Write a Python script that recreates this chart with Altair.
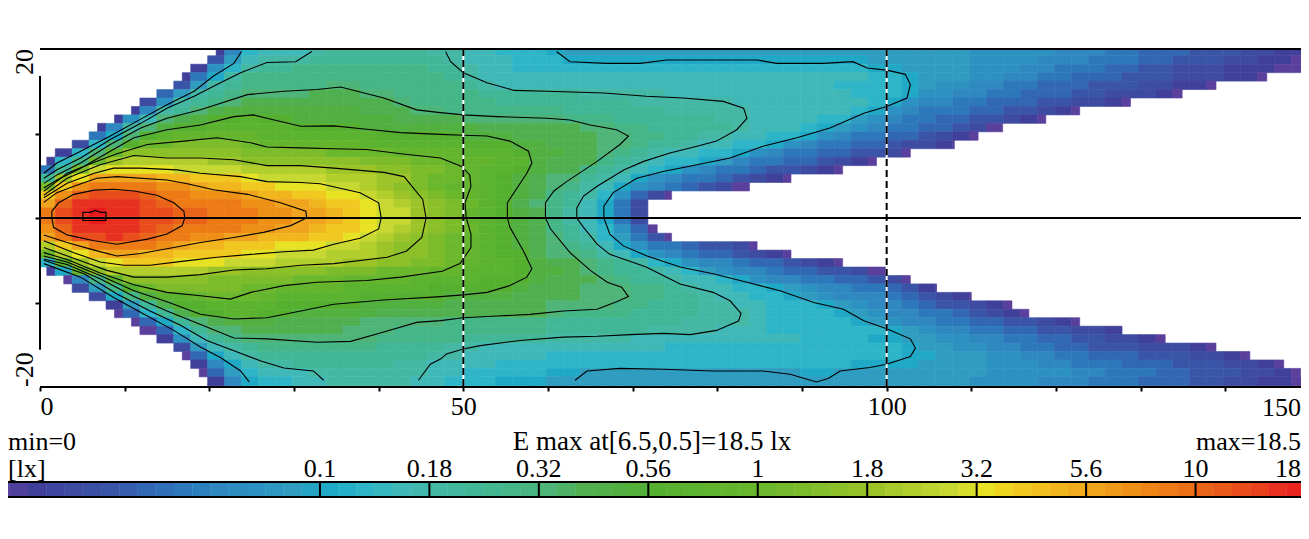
import altair as alt
import pandas as pd

FONT = "Liberation Serif"
ALPHA = "0123456789abcdefghijklmnopqrstuvwxyzA"

# Illuminance level for each cell. One entry per row, top to bottom;
# one character per 2 m column. Level 9 = 0.1 lx, 12 = 0.18, 15 = 0.32 ... 36 = 18 lx.
ROW_K = list(range(19, -22, -1))
ROWS = [
"..... ..... 16abb bcddd dddcc bbaaa 98888 88888 88888 88888 88888 77777 66655 44433 32211",
"..... ..... 38bcc cdddd ddddc bbbaa a9999 99999 99999 99998 88888 77776 66555 44333 22110",
"..... ....1 7acdd eeeee eeedd cbbaa aaaaa aaaaa aaaaa aaaa9 98888 77766 55544 33222 11100",
"..... ...15 9ceee eeeee eeeed cbbbb bbbbb bbbbb bbbbb bbbba a9888 77665 54443 33222 110..",
"..... ...38 cdeee eeffe eeeee dcbbb bbbbb bbbbb bbbbb bbaaa a9877 66554 44333 22110 .....",
"..... ..48c defff fgggf feeee edddd ddccc ccbbb bbbbb bbbaa a9776 65544 43322 210.. .....",
"..... .27cd efggg ggggg gfeee eeddd ddddd ccccc cbbbb bbbba 97665 54443 32210 ..... .....",
"..... 16cdf ghhhh hhhhg ggffe eeeee edddd ddccc ccbbb bbba9 76555 44332 10... ..... .....",
"....1 7bfgh iijii hhhhh hgggg fffff feeed ddddd ccbbb baa87 65544 33210 ..... ..... .....",
"...16 cfhii jjjjj iiiih hhhhh hgggg ggffe edddd dcbbb a9876 55443 20... ..... ..... .....",
"...59 fijkk kkkjj jjjjj iiiii hhhgg gggff eeddc cbbaa 97655 44321 0.... ..... ..... .....",
"..2af illmm mmlkk kkkkj jjjjj iiihh gggff eddcb baa97 65544 32210 ..... ..... ..... .....",
".1afk nnnnn nnmmm mmlll lkkkk jjjih hggfe dcbba a9765 54433 20... ..... ..... ..... .....",
"1aelo ppppp oonnn nnnnm mmllk kkjjh ggged cbaa9 86554 43210 ..... ..... ..... ..... .....",
"5dmqr rrrqq qqppp ppooo nnmml kjjih ggedc ba976 55433 210.. ..... ..... ..... ..... .....",
"doruu uutts ssrqq qqppp oomll kjihg ffdcb 97655 43210 ..... ..... ..... ..... ..... .....",
"msvww wwvvu ttssr rrqqp onmlk kjihg fecb9 76543 20... ..... ..... ..... ..... ..... .....",
"svxyy yxwwv vvutt ssrrq ponml kjihg edca7 420.. ..... ..... ..... ..... ..... ..... .....",
"uxzzz zyxww wwvvu utssr qponm ljigf edb95 2.... ..... ..... ..... ..... ..... ..... .....",
"wyzAz zyyxx wwwvv uutsr qqonm kjihg ecb95 2.... ..... ..... ..... ..... ..... ..... .....",
"wyzAz zyyxx wwwvv uutsr qqonm kjihg ecb95 2.... ..... ..... ..... ..... ..... ..... .....",
"vxzzz zyxww wwvvu utssr qponm ljihg edba7 40... ..... ..... ..... ..... ..... ..... .....",
"uwyyz yxwwv vuutt tssrq ponml kjihg fdca8 530.. ..... ..... ..... ..... ..... ..... .....",
"psuww wwvut tsssr rrqqp onnml kjihg fedb9 75543 320.. ..... ..... ..... ..... ..... .....",
"lprtu uttss ssrrq qqppp onnml kjiig ffecb 97654 43210 ..... ..... ..... ..... ..... .....",
"ajoqr sssrr rqqqp pppoo nnmml kjjih ggfed ca976 65443 210.. ..... ..... ..... ..... .....",
"19knp ppppp oonnn nnmmm lllkk jjjih hgfed dcba8 76654 43320 0.... ..... ..... ..... .....",
".06ej nnnnn mmmmm lllkk kkjjj jiiih gggfe ddcbb a9766 55443 20... ..... ..... ..... .....",
"..28e ilmmm mmllk kkkjj jjjii iiihg ggfff eedcb baa98 76655 4310. ..... ..... ..... .....",
"...29 ehjjk lllkj jjjji iiiih hhhgg ggfff eeddc bbaa9 87666 54321 0.... ..... ..... .....",
"....1 8dgii jjjji iiiih hhhhg ggggg ffffe edddc cbbaa a9876 65433 210.. ..... ..... .....",
"....0 4adgi ijjii hhhhh ggggg ggggg feeee ddddc ccbaa aa987 66554 3210. ..... ..... .....",
"..... 049df ghhhg ggggf ffffe eeeee ddddd dddcc ccbaa aaa98 76655 44332 10... ..... .....",
"..... .04ad ffggg gggff feeee eeeee ddddd dcccc bbbaa aaaaa 98766 55443 32210 ..... .....",
"..... ..17b defff fffff eeeee ddddd ccccc bbbbb bbbbb aaaa9 98877 66554 43322 10... .....",
"..... ...28 bcdee eeeee ddddc cbbbb bbbbb bbaaa aaaaa aaaaa a9887 76655 44333 22210 .....",
"..... ...04 9bcdd ddddd dddcc bbbbb aaaaa aaaaa aaaaa aaaaa a9988 87766 55444 33322 10...",
"..... ....1 69bcc ddddd dccbb bbaaa aaaaa aaaaa aaaaa aaa99 99888 87776 65554 44333 2210.",
"..... ....0 48abb bcccc cccbb aaaaa 99888 88888 88888 99888 88888 87777 76655 54433 32210",
"..... ..... 169aa bbccc ccbba aa999 88888 88888 88888 88888 88888 77776 66555 44433 22110",
"..... ..... 169aa bbccc ccbba aa999 88888 88888 88888 88888 88888 77776 66555 44433 22110",
]
# First and last x (m) of the lit area in each row
ROW_START = [20.8,19.8,17.8,16.8,15.8,13.8,11.8,10.8,8.8,6.8,5.8,3.8,1.8,0.8,0,0,0,0,0,0,0,0,0,0,0,0,
             0.8,2.8,3.8,5.8,7.8,8.8,10.8,11.8,13.8,15.8,16.8,17.8,18.8,19.8,19.8]
ROW_END = [151,151,151,144.9,138.9,134.9,128.8,122.8,118.8,113.7,110.8,108,102.8,98.8,94.8,88.7,83.9,74.6,71.8,71.8,
           71.8,72.9,74.6,84.7,88.7,94.8,100,102.8,105.9,110,114.8,116.8,122.8,127.8,132.9,138.9,142.9,146.9,148.9,151,151]

# Colour ramp: level -> colour, as on the colour bar
RAMP_LEVELS = [0,1,3,4.5,6,8,9,10,11,12,14,15,16,18,21,24,26,27,28,30,33,35,36]
RAMP_COLORS = ["#5b3f9c","#40409a","#3a55a8","#2f70b8","#3088c0","#2f9cc0","#1fa9c6","#2eb6c8","#40b8b8","#44b8a4",
               "#44b688","#4fb478","#50b050","#55b030","#6bb82d","#9cc428","#c8d832","#e8e224","#f0c820","#f0a41e",
               "#e96418","#e83020","#e81a1e"]

C18 = [(5.06,0),(5.06,.67),(5.96,.67),(6.55,.9),(7.14,.67),(7.8,.67),(7.8,-.3),(5.06,-.3),(5.06,0)]
C10 = [(1.4,0),(1.4,.8),(2.2,1.8),(4,2.8),(6.4,3.3),(8.7,3.4),(11.1,3.2),(13.8,2.7),(15.8,1.8),(17,.8),(17.1,0),
       (16.8,-.9),(15,-1.9),(12.7,-2.5),(9.1,-3.1),(6.4,-2.7),(3.2,-2),(1.6,-1.1),(1.4,0)]
C5_6 = [(.45,1.85),(2,3),(4,3.75),(6.7,4.7),(9.1,4.9),(15,4.5),(17.4,4.06),(20.5,3.35),(24.5,2.8),(28.4,1.8),(31.4,.8),(31.5,0),
        (29.6,-.9),(26.4,-1.7),(22.9,-2.3),(18.95,-2.9),(15.8,-3.5),(11.9,-4.2),(9.1,-4.5),(6.4,-3.8),(3.2,-2.9),(.45,-2)]
C3_2 = [(.45,2.4),(3.2,4.1),(6.4,5.3),(8.7,5.9),(11.9,5.9),(16.2,5.7),(18.95,5.3),(23.7,4.9),(26.8,4.3),(30.8,4.2),(33.1,4.06),
        (37.8,3),(40,1.8),(40.3,0),(40,-1.3),(37.8,-2.4),(34.7,-3.1),(32.3,-3.8),(28.8,-4),(24.9,-4.3),(20.9,-4.65),(17,-5.1),
        (13,-5.6),(9.9,-5.6),(7.1,-5.2),(4,-4.1),(.45,-2.7)]
C1_8 = [(.45,2.7),(3.2,4.7),(7.1,6.3),(11.1,7.4),(15,7.1),(18.95,7.1),(22.9,6.9),(26.8,6.2),(30.8,6.2),(34.7,5.9),(40.6,5.4),
        (43,4.9),(45.2,2.2),(45.6,0),(45.1,-2.3),(43.3,-3.9),(41,-4.65),(34.7,-5.4),(30.8,-5.6),(26.8,-6),(22.9,-6.15),
        (18.95,-6.7),(15,-7),(11.1,-7),(7.9,-6.2),(5.2,-5.2),(.45,-3.5)]
C1 = [(.45,3.15),(3.2,5.3),(6.4,6.6),(9.1,7.6),(12.65,8.7),(17,9.1),(20.9,9.5),(24.9,8.9),(26.8,8.4),(30.8,8.3),(34.7,8.2),
      (38.6,8.1),(42.6,7.6),(47.3,7.1),(49.8,6.1),(50.75,5.1),(50.9,3.75),(50.2,1.8),(50.35,0),(50.9,-1.9),(50.9,-3.5),
      (49.6,-5.4),(47.5,-6.3),(42.6,-7),(38.6,-7.4),(32.7,-7.6),(28.8,-8),(24.9,-8.8),(22.5,-9.6),(18.95,-9.2),(15,-8.8),
      (11.1,-7.9),(7.1,-6.5),(3.2,-4.9),(.45,-4.1)]
C0_56 = [(.45,3.55),(2,4.5),(4.8,5.9),(8.3,7.9),(11.1,9.5),(15,10.45),(18.95,11),(22.9,12),(25.2,12.2),(26.8,11.8),(30.8,10.85),
         (34.7,10.9),(38.6,10.5),(42.6,10.1),(47.3,9.9),(50,9.8),(52.8,9.7),(55.5,9.1),(57.7,7.9),(58.1,6.5),(57.5,5.3),
         (55.2,1.8),(55.2,0),(55.5,-1.1),(57.1,-3.9),(58.1,-6),(57.5,-7),(55.5,-8),(52.8,-8.8),(50,-9.1),(47.3,-9.3),
         (40.6,-9.7),(34.7,-10.2),(30.8,-11),(26.8,-11.8),(22.9,-11.95),(18.95,-11.4),(15,-9.9),(11.1,-8.6),(7.1,-6.8),
         (3.2,-5.2),(.45,-4.5)]
C0_32 = [(.45,4.1),(2,5.1),(4.8,6.5),(8.3,8.7),(11.9,10.65),(15,11.8),(18.95,12.8),(24.5,14.6),(28.8,15),(32.7,15.2),(35.5,15.5),
         (40.6,14.2),(44.5,12.8),(47,12.5),(50,12.2),(54,12),(59.9,11.8),(62.6,11.6),(65,11),(68.1,10.45),(69.5,9.7),(68.5,8.7),
         (65.8,6.7),(62.2,4.3),(60.7,3.2),(59.7,1.8),(59.7,0),(60.3,-1.3),(62.6,-4.1),(65,-6.2),(67,-7.6),(68.7,-8.2),(69.5,-9.3),
         (68.1,-9.9),(65.8,-10.8),(61.8,-11),(57.9,-11.4),(54,-11.6),(50,-11.8),(47.3,-12.15),(44.5,-12.35),(40.6,-13.5),
         (36.7,-14.6),(32.7,-14.7),(26.8,-14.3),(22.9,-14.2),(19.7,-12.9),(15,-11),(11.1,-9.3),(7.1,-7.2),(3.2,-5.5),(.45,-4.85)]
C0_18_A = [(.45,4.7),(2,5.7),(4.8,7.1),(8.3,9.3),(11.9,11.2),(15,13),(18.2,14.4),(20.9,15.8),(23.7,17.2),(26.8,18.4),(30.2,18.5),(32.1,19.7)]
C0_18_B = [(47.9,19.7),(48.5,18.5),(50,17.2),(52.8,16),(56,15.1),(59.9,15),(66.6,14.8),(71.6,14.4),(76,14.2),(80.7,13.8),(83.1,13),
           (83.5,11.8),(82.3,10.45),(79.9,9.1),(77.6,8.5),(74.4,7.7),(71.3,6.7),(69,5.7),(65.8,3.75),(64.2,2.6),(63.4,1.2),(63.4,0),
           (64.2,-1.1),(65.8,-3.1),(67.3,-4.3),(71.6,-5.8),(75.6,-7.8),(79.5,-8.8),(81.5,-9.8),(82.8,-11.3),(82.5,-12.2),(79.9,-13.3),
           (76.8,-13.8),(73.6,-13.65),(69.7,-13.8),(65.8,-14),(61.8,-14.1),(56.7,-14.5),(52,-15.1),(50,-15.5),(48,-16.1),(47.3,-16.7),
           (46.1,-17.3),(44.7,-19.2)]
C0_18_C = [(33.5,-19.2),(32.3,-18.1),(28.8,-17.75),(26,-16.9),(22.9,-15.7),(19.7,-14.5),(16.6,-12.7),(13,-11),(9.1,-9),(5.2,-6.6),(.45,-5)]
C0_1_A = [(.45,5.3),(2,6.5),(4.8,7.9),(8.3,9.7),(11.9,11.7),(15,13.4),(18.2,15),(20.5,16.8),(22.9,18.3),(23.8,19.7)]
C0_1_B = [(61,19.7),(62.6,18.5),(66.9,18.3),(70.9,18.3),(74,18.7),(84.7,18.7),(87,18.3),(92.5,18.3),(96,18.5),(97.7,17.75),(100,17.5),
          (102.2,17),(102.8,15.8),(102.4,14.2),(100,13.2),(97.3,12.4),(93.3,10.65),(89.4,9.5),(85.4,8.5),(81.5,7.1),(77.6,6.3),(73.6,5.5),
          (70.5,4.7),(67.7,3),(66.6,1.4),(66.6,0),(67.3,-1.9),(68.9,-3.3),(71.7,-4.5),(75.6,-5.8),(79.5,-6.6),(83.5,-7.6),(87.4,-8.6),
          (91.4,-10),(94.9,-10.8),(97.3,-12.15),(100,-13.1),(102.8,-14.3),(103.4,-15.4),(102.8,-16.4),(100,-17.3),(98,-17.7),(94.5,-18.1),
          (93.1,-19),(91.7,-19.4),(88.6,-18.5),(85.4,-18.1),(79.5,-18.1),(73.6,-17.9),(68.5,-17.8),(64.6,-18.1),(63.2,-19.2)]
C0_1_C = [(24.7,-19.4),(23.7,-18.1),(21.3,-16.5),(19,-15.3),(15.8,-13.3),(12.3,-11.4),(8.7,-9.4),(4.8,-7),(.45,-5.4)]
CONTOURS = [C18,C10,C5_6,C3_2,C1_8,C1,C0_56,C0_32,C0_18_A,C0_18_B,C0_18_C,C0_1_A,C0_1_B,C0_1_C]

BAR_TICKS = [9,12,15,18,21,24,27,30,33,36]
BAR_LABELS = ["0.1","0.18","0.32","0.56","1","1.8","3.2","5.6","10"]
X_TICKS = list(range(0,141,10))

cells = []
for k, row, x_start, x_end in zip(ROW_K, ROWS, ROW_START, ROW_END):
    for c, ch in enumerate(row.replace(" ", "")):
        if ch == ".":
            continue
        x0, x1 = max(2*c-0.2, x_start), min(2*c+1.8, x_end)
        if x1 > x0:
            cells.append({"x0":x0,"x1":x1,"y0":k+0.2,"y1":k+1.2,"level":ALPHA.index(ch)})
heat_df = pd.DataFrame(cells)

line_df = pd.DataFrame([{"id":i,"ord":j,"x":p[0],"y":p[1]} for i,c in enumerate(CONTOURS) for j,p in enumerate(c)])

# The visible page ends at x=1301, so the view is 1261 wide and 150 m lies just past it
W, H = 1261, 338
XS = alt.Scale(domain=[0,150], range=[0,1270], nice=False, zero=False)
YS = alt.Scale(domain=[-20,20], nice=False, zero=False)
BS = alt.Scale(domain=[0,36], range=[-48.4,1265], nice=False, zero=False)
CS = alt.Scale(domain=RAMP_LEVELS, range=RAMP_COLORS)

heat = alt.Chart(heat_df).mark_rect(clip=True, strokeWidth=0.6).encode(
    x=alt.X("x0:Q", scale=XS, title=None, axis=alt.Axis(
        values=X_TICKS, grid=False, domain=False, tickSize=4, tickWidth=2, tickColor="black",
        labelExpr="datum.value % 50 == 0 ? datum.label : ''", labelFlush=True, labelOverlap=False,
        labelFont=FONT, labelFontSize=26, labelColor="black", labelPadding=2)),
    x2="x1:Q",
    y=alt.Y("y0:Q", scale=YS, title=None, axis=alt.Axis(
        values=[-10,0,10], grid=False, domain=False, labels=False, tickSize=5, tickWidth=2, tickColor="black")),
    y2="y1:Q",
    color=alt.Color("level:Q", scale=CS, legend=None),
    stroke=alt.Stroke("level:Q", scale=CS, legend=None),
)

lines = alt.Chart(line_df).mark_line(color="black", strokeWidth=1.1, clip=True).encode(
    x=alt.X("x:Q", scale=XS, axis=None), y=alt.Y("y:Q", scale=YS, axis=None),
    detail="id:N", order="ord:Q")

frame_df = pd.DataFrame({"y":[20,0,-20],"x0":0,"x1":150})
frame = alt.Chart(frame_df).mark_rule(color="black", strokeWidth=2).encode(
    x=alt.X("x0:Q", scale=XS, axis=None), x2="x1:Q", y=alt.Y("y:Q", scale=YS, axis=None))
left_axis = alt.Chart(pd.DataFrame({"x":[0],"a":[16.8],"b":[-15.6]})).mark_rule(color="black", strokeWidth=2).encode(
    x=alt.X("x:Q", scale=XS, axis=None), y=alt.Y("a:Q", scale=YS, axis=None), y2="b:Q")

guide_df = pd.DataFrame({"x":[50,100],"a":[20,20],"b":[-20,-20]})
guide_w = alt.Chart(guide_df).mark_rule(color="white", strokeWidth=2).encode(
    x=alt.X("x:Q", scale=XS, axis=None), y=alt.Y("a:Q", scale=YS, axis=None), y2="b:Q")
guide_k = alt.Chart(guide_df).mark_rule(color="black", strokeWidth=2, strokeDash=[7,4]).encode(
    x=alt.X("x:Q", scale=XS, axis=None), y=alt.Y("a:Q", scale=YS, axis=None), y2="b:Q")

ylab_top = alt.Chart(pd.DataFrame({"y":[20],"t":["20"]})).mark_text(
    font=FONT, fontSize=26, angle=270, align="right", baseline="alphabetic", color="black").encode(
    x=alt.value(-7), y=alt.Y("y:Q", scale=YS, axis=None), text="t:N")
ylab_bot = alt.Chart(pd.DataFrame({"y":[-20],"t":["-20"]})).mark_text(
    font=FONT, fontSize=26, angle=270, align="left", baseline="alphabetic", color="black").encode(
    x=alt.value(-7), y=alt.Y("y:Q", scale=YS, axis=None), text="t:N")

# colour bar
bar_df = pd.DataFrame({"level":[i/2 for i in range(73)]})
bar_df["end"] = bar_df["level"] + 0.5
bar = alt.Chart(bar_df).mark_rect(strokeWidth=0.5).encode(
    x=alt.X("level:Q", scale=BS, axis=None), x2="end:Q",
    y=alt.value(434), y2=alt.value(447),
    color=alt.Color("level:Q", scale=CS, legend=None),
    stroke=alt.Stroke("level:Q", scale=CS, legend=None))
edge_df = pd.DataFrame({"a":[-1.0],"b":[37.0]})
edge_t = alt.Chart(edge_df).mark_rule(color="black", strokeWidth=2).encode(
    x=alt.X("a:Q", scale=BS, axis=None), x2="b:Q", y=alt.value(433))
edge_b = alt.Chart(edge_df).mark_rule(color="black", strokeWidth=2).encode(
    x=alt.X("a:Q", scale=BS, axis=None), x2="b:Q", y=alt.value(448))
bar_ticks = alt.Chart(pd.DataFrame({"v":BAR_TICKS})).mark_rule(color="black", strokeWidth=2).encode(
    x=alt.X("v:Q", scale=BS, axis=None), y=alt.value(433), y2=alt.value(448))
bar_text = alt.Chart(pd.DataFrame({"v":BAR_TICKS[:-1],"t":BAR_LABELS})).mark_text(
    font=FONT, fontSize=26, baseline="alphabetic", align="center", color="black").encode(
    x=alt.X("v:Q", scale=BS, axis=None), y=alt.value(428), text="t:N")

def label(t, x, y, align, size=26):
    return alt.Chart(pd.DataFrame({"t":[t]})).mark_text(font=FONT, fontSize=size, align=align, baseline="alphabetic", color="black").encode(
        x=alt.value(x), y=alt.value(y), text="t:N")

chart = alt.layer(
    heat, lines, guide_w, guide_k, frame, left_axis, ylab_top, ylab_bot,
    bar, edge_t, edge_b, bar_ticks, bar_text,
    label("min=0", -32, 401, "left"),
    label("[lx]", -32, 428, "left"),
    label("E max at[6.5,0.5]=18.5 lx", 612, 401, "center", 27),
    label("max=18.5", W, 401, "right"),
    label("18", W, 428, "right"),
    label("150", W, 367, "right"),
).resolve_scale(x="independent", y="independent").properties(
    width=W, height=H,
    padding={"left":32,"top":41,"right":0,"bottom":115},
    autosize=alt.AutoSizeParams(type="none"),
    background="white",
).configure_view(stroke=None)

chart.save("out.html", embed_options={"renderer":"svg","actions":False})
